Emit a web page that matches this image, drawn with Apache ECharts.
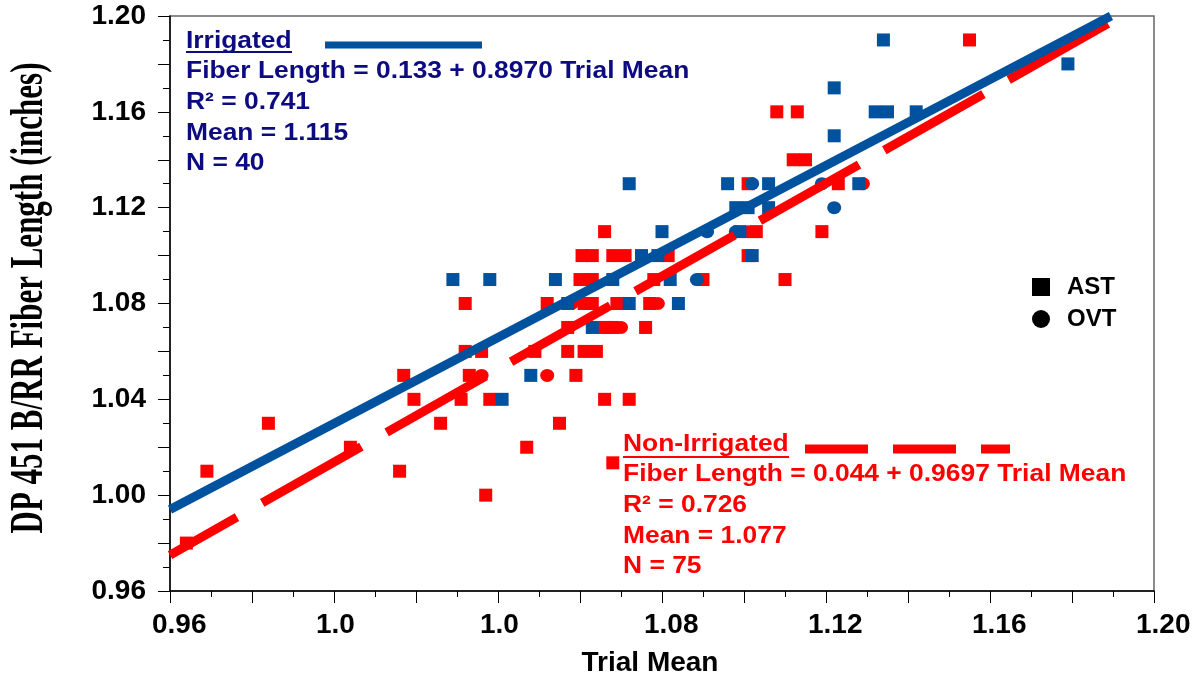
<!DOCTYPE html>
<html>
<head>
<meta charset="utf-8">
<script src="https://cdn.jsdelivr.net/npm/echarts@6/dist/echarts.min.js"></script>
<style>
html, body { margin: 0; padding: 0; background: #fff; }
#chart { width: 1204px; height: 675px; }
</style>
</head>
<body>
<div id="chart"></div>
<script>
var xTickValues = [0.96, 1.00, 1.04, 1.08, 1.12, 1.16, 1.20];
var xTickLabels = ['0.96', '1.0', '1.0', '1.08', '1.12', '1.16', '1.20'];
var yTickValues = [0.96, 1.00, 1.04, 1.08, 1.12, 1.16, 1.20];
var yTickLabels = ['0.96', '1.00', '1.04', '1.08', '1.12', '1.16', '1.20'];

// [trial mean, DP 451 B/RR fiber length]
var irrigatedAst = [
    [1.134, 1.19], [1.179, 1.18], [1.122, 1.17], [1.132, 1.16], [1.135, 1.16], [1.142, 1.16],
    [1.122, 1.15], [1.072, 1.13], [1.096, 1.13], [1.106, 1.13], [1.128, 1.13],
    [1.098, 1.12], [1.101, 1.12], [1.106, 1.12], [1.080, 1.11], [1.099, 1.11],
    [1.075, 1.10], [1.079, 1.10], [1.102, 1.10],
    [1.029, 1.09], [1.038, 1.09], [1.054, 1.09], [1.068, 1.09], [1.082, 1.09],
    [1.057, 1.08], [1.072, 1.08], [1.084, 1.08], [1.063, 1.07], [1.048, 1.05], [1.041, 1.04]
];
var irrigatedOvt = [
    [1.102, 1.13], [1.119, 1.13], [1.122, 1.12], [1.091, 1.11], [1.098, 1.11], [1.0885, 1.09]
];
var nonIrrigatedAst = [
    [1.155, 1.19], [1.108, 1.16], [1.113, 1.16], [1.112, 1.14], [1.115, 1.14],
    [1.101, 1.13], [1.123, 1.13], [1.066, 1.11], [1.103, 1.11], [1.119, 1.11],
    [1.0605, 1.10], [1.063, 1.10], [1.068, 1.10], [1.071, 1.10], [1.0815, 1.10], [1.101, 1.10],
    [1.060, 1.09], [1.063, 1.09], [1.078, 1.09], [1.090, 1.09], [1.110, 1.09],
    [1.032, 1.08], [1.052, 1.08], [1.061, 1.08], [1.063, 1.08], [1.069, 1.08], [1.077, 1.08],
    [1.057, 1.07], [1.066, 1.07], [1.068, 1.07], [1.076, 1.07],
    [1.032, 1.06], [1.036, 1.06], [1.049, 1.06], [1.057, 1.06], [1.061, 1.06], [1.064, 1.06],
    [1.017, 1.05], [1.033, 1.05], [1.059, 1.05],
    [1.0195, 1.04], [1.031, 1.04], [1.038, 1.04], [1.066, 1.04], [1.072, 1.04],
    [0.984, 1.03], [1.026, 1.03], [1.055, 1.03], [1.004, 1.02], [1.047, 1.02],
    [0.969, 1.01], [1.016, 1.01], [1.068, 1.0135], [1.037, 1.00], [0.964, 0.98]
];
var nonIrrigatedOvt = [
    [1.129, 1.13], [1.101, 1.11], [1.079, 1.08], [1.058, 1.08], [1.070, 1.07], [1.036, 1.05], [1.052, 1.05]
];

// fitted lines, end points
var irrigatedFit = [[0.96, 0.994], [1.1895, 1.20]];
var nonIrrigatedFit = [[0.96, 0.975], [1.192, 1.20]];

var irrigatedText = ['Irrigated', 'Fiber Length = 0.133 + 0.8970 Trial Mean', 'R² = 0.741', 'Mean = 1.115', 'N = 40'];
var nonIrrigatedText = ['Non-Irrigated', 'Fiber Length = 0.044 + 0.9697 Trial Mean', 'R² = 0.726', 'Mean = 1.077', 'N = 75'];

var BLUE = '#00519e';
var NAVY = '#0c0c80';
var RED = '#ff0000';
var SANS = '"Liberation Sans", Arial, Helvetica, sans-serif';

var chart = echarts.init(document.getElementById('chart'), null, { renderer: 'canvas' });

function tickFormatter(values, labels) {
    return function (v) {
        for (var i = 0; i < values.length; i++) {
            if (Math.abs(v - values[i]) < 1e-6) return labels[i];
        }
        return '';
    };
}

function scatter(name, data, symbol, color, size) {
    return {
        name: name,
        type: 'scatter',
        data: data,
        symbol: symbol,
        symbolSize: size,
        itemStyle: { color: color, opacity: 1 },
        silent: true
    };
}

function textBlock(lines, x, y0, color) {
    return lines.map(function (t, i) {
        return {
            type: 'text',
            x: x,
            y: y0 + i * 30.7,
            scaleX: 1.1,
            style: {
                text: t,
                font: 'bold 24px ' + SANS,
                fill: color,
                align: 'left',
                verticalAlign: 'middle'
            }
        };
    });
}

var graphics = [
    {
        type: 'text',
        x: 30,
        y: 298,
        rotation: Math.PI / 2,
        scaleY: 1.5,
        style: {
            text: 'DP 451 B/RR Fiber Length (inches)',
            font: 'bold 31px "Liberation Serif", "Times New Roman", serif',
            fill: '#000',
            align: 'center',
            verticalAlign: 'middle'
        }
    },
    // underline + sample line for the irrigated block
    { type: 'line', shape: { x1: 186, y1: 52, x2: 292, y2: 52 }, style: { stroke: NAVY, lineWidth: 2 } },
    { type: 'line', shape: { x1: 325, y1: 45, x2: 482, y2: 45 }, style: { stroke: BLUE, lineWidth: 7 } },
    // underline + sample dash for the non-irrigated block
    { type: 'line', shape: { x1: 623, y1: 457, x2: 789, y2: 457 }, style: { stroke: RED, lineWidth: 2 } },
    { type: 'line', shape: { x1: 805, y1: 449, x2: 1010, y2: 449 }, style: { stroke: RED, lineWidth: 9, lineDash: [63, 25] } }
]
    .concat(textBlock(irrigatedText, 186, 41, NAVY))
    .concat(textBlock(nonIrrigatedText, 623, 444, RED));

var option = {
    animation: false,
    backgroundColor: '#fff',
    grid: {
        left: 170, right: 50, top: 16, bottom: 84,
        show: true, borderColor: '#666', borderWidth: 1.5,
        outerBoundsMode: 'none'
    },
    legend: {
        orient: 'vertical',
        left: 1027,
        top: 270,
        itemWidth: 18,
        itemHeight: 18,
        itemGap: 8,
        selectedMode: false,
        data: [
            { name: 'AST', icon: 'rect', itemStyle: { color: '#000' } },
            { name: 'OVT', icon: 'circle', itemStyle: { color: '#000' } }
        ],
        textStyle: { fontFamily: SANS, fontWeight: 'bold', fontSize: 24, color: '#000', padding: [6, 0, 0, 12] }
    },
    xAxis: {
        type: 'value',
        min: 0.96,
        max: 1.20,
        interval: 0.02,
        name: 'Trial Mean',
        nameLocation: 'middle',
        nameGap: 58,
        nameTextStyle: { fontFamily: SANS, fontWeight: 'bold', fontSize: 28, color: '#000', padding: [0, 24, 0, 0] },
        axisLine: { show: true, onZero: false, lineStyle: { color: '#000', width: 1.5 } },
        axisTick: { show: true, length: 12, lineStyle: { color: '#000', width: 1 } },
        minorTick: { show: true, splitNumber: 2, length: 6, lineStyle: { color: '#000', width: 1 } },
        axisLabel: {
            formatter: tickFormatter(xTickValues, xTickLabels),
            fontFamily: SANS, fontWeight: 'bold', fontSize: 28, color: '#000',
            margin: 20, align: 'left', padding: [0, 0, 0, -18]
        },
        splitLine: { show: false }
    },
    yAxis: {
        type: 'value',
        min: 0.96,
        max: 1.20,
        interval: 0.02,
        axisLine: { show: true, onZero: false, lineStyle: { color: '#000', width: 1.5 } },
        axisTick: { show: true, length: 12, lineStyle: { color: '#000', width: 1 } },
        minorTick: { show: true, splitNumber: 2, length: 7, lineStyle: { color: '#000', width: 1 } },
        axisLabel: {
            formatter: tickFormatter(yTickValues, yTickLabels),
            fontFamily: SANS, fontWeight: 'bold', fontSize: 28, color: '#000', margin: 24
        },
        splitLine: { show: false }
    },
    series: [
        scatter('AST', nonIrrigatedAst, 'rect', RED, [13, 13]),
        scatter('OVT', nonIrrigatedOvt, 'circle', RED, [14, 13]),
        scatter('AST', irrigatedAst, 'rect', BLUE, [13, 13]),
        scatter('OVT', irrigatedOvt, 'circle', BLUE, [14, 13]),
        {
            name: 'Non-Irrigated fit',
            type: 'line',
            data: nonIrrigatedFit,
            symbol: 'none',
            silent: true,
            lineStyle: { color: RED, width: 9, type: [114, 29], dashOffset: 37, cap: 'butt' }
        },
        {
            name: 'Irrigated fit',
            type: 'line',
            data: irrigatedFit,
            symbol: 'none',
            silent: true,
            lineStyle: { color: BLUE, width: 9, cap: 'butt' }
        }
    ],
    graphic: graphics
};

chart.setOption(option);
</script>
</body>
</html>
